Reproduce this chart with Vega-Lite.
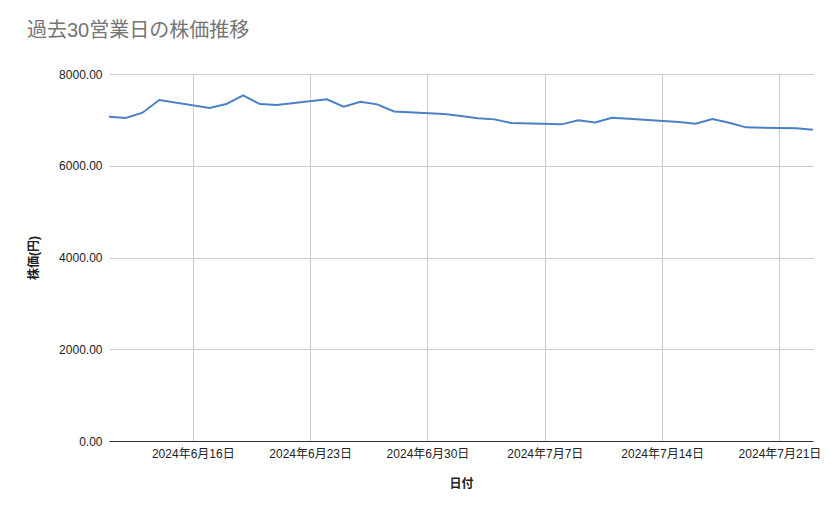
{
  "$schema": "https://vega.github.io/schema/vega-lite/v6.json",
  "width": 704,
  "height": 367,
  "autosize": "none",
  "padding": {"left": 109, "top": 74, "right": 26, "bottom": 78},
  "background": "white",
  "config": {
    "font": "Liberation Sans, Noto Sans CJK JP",
    "view": {"stroke": null}
  },
  "title": {
    "text": "過去30営業日の株価推移",
    "anchor": "start",
    "frame": "group",
    "dx": -82,
    "offset": 27,
    "fontSize": 20,
    "fontWeight": "normal",
    "color": "#757575",
    "font": "Liberation Sans, Noto Sans CJK JP"
  },
  "data": {
    "values": [
      {"date": "2024/06/11", "price": 7069},
      {"date": "2024/06/12", "price": 7040},
      {"date": "2024/06/13", "price": 7156},
      {"date": "2024/06/14", "price": 7432},
      {"date": "2024/06/17", "price": 7258},
      {"date": "2024/06/18", "price": 7345},
      {"date": "2024/06/19", "price": 7534},
      {"date": "2024/06/20", "price": 7345},
      {"date": "2024/06/21", "price": 7323},
      {"date": "2024/06/24", "price": 7447},
      {"date": "2024/06/25", "price": 7287},
      {"date": "2024/06/26", "price": 7396},
      {"date": "2024/06/27", "price": 7338},
      {"date": "2024/06/28", "price": 7185},
      {"date": "2024/07/01", "price": 7127},
      {"date": "2024/07/02", "price": 7083},
      {"date": "2024/07/03", "price": 7033},
      {"date": "2024/07/04", "price": 7011},
      {"date": "2024/07/05", "price": 6930},
      {"date": "2024/07/08", "price": 6902},
      {"date": "2024/07/09", "price": 6989},
      {"date": "2024/07/10", "price": 6945},
      {"date": "2024/07/11", "price": 7047},
      {"date": "2024/07/12", "price": 7025},
      {"date": "2024/07/15", "price": 6953},
      {"date": "2024/07/16", "price": 6917},
      {"date": "2024/07/17", "price": 7018},
      {"date": "2024/07/18", "price": 6938},
      {"date": "2024/07/19", "price": 6837},
      {"date": "2024/07/22", "price": 6815},
      {"date": "2024/07/23", "price": 6785}
    ]
  },
  "mark": {"type": "line", "color": "#4a80c8", "strokeWidth": 2},
  "encoding": {
    "x": {
      "field": "date",
      "type": "temporal",
      "title": "日付",
      "scale": {"nice": false},
      "axis": {
        "values": [
          {"year": 2024, "month": 6, "date": 16},
          {"year": 2024, "month": 6, "date": 23},
          {"year": 2024, "month": 6, "date": 30},
          {"year": 2024, "month": 7, "date": 7},
          {"year": 2024, "month": 7, "date": 14},
          {"year": 2024, "month": 7, "date": 21}
        ],
        "format": "%Y年%-m月%-d日",
        "labelFontSize": 12,
        "labelColor": "#222222",
        "labelPadding": 7,
        "ticks": false,
        "grid": true,
        "gridColor": "#cccccc",
        "domainColor": "#333333",
        "labelFlush": false,
        "titleFontSize": 12,
        "titleFontWeight": "bold",
        "titleColor": "#222222",
        "titlePadding": 19
      }
    },
    "y": {
      "field": "price",
      "type": "quantitative",
      "title": "株価(円)",
      "scale": {"domain": [0, 8000]},
      "axis": {
        "values": [0, 2000, 4000, 6000, 8000],
        "format": ".2f",
        "labelFontSize": 12,
        "labelColor": "#222222",
        "labelPadding": 7,
        "ticks": false,
        "domain": false,
        "grid": true,
        "gridColor": "#cccccc",
        "titleFontSize": 12,
        "titleFontWeight": "bold",
        "titleColor": "#222222",
        "titlePadding": 18
      }
    }
  }
}
